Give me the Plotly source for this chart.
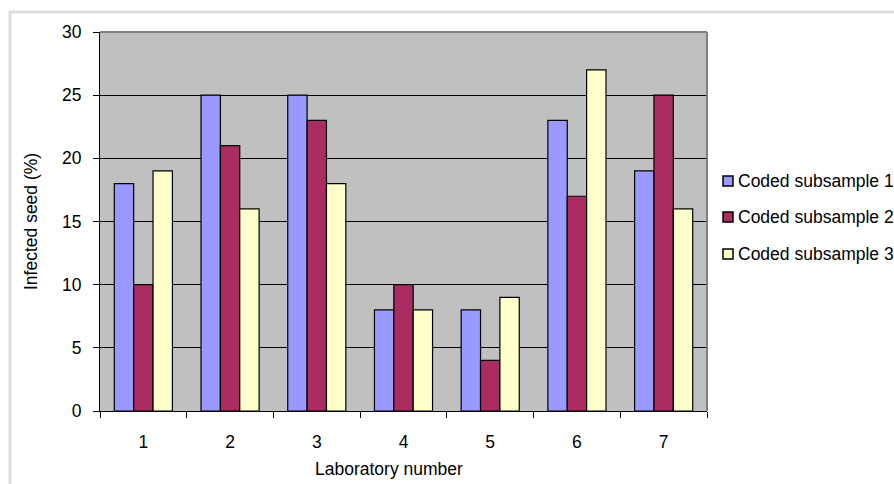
import plotly.graph_objects as go

categories = ["1", "2", "3", "4", "5", "6", "7"]
series_names = ["Coded subsample 1", "Coded subsample 2", "Coded subsample 3"]
sub1 = [18, 25, 25, 8, 8, 23, 19]
sub2 = [10, 21, 23, 10, 4, 17, 25]
sub3 = [19, 16, 18, 8, 9, 27, 16]
colors = ["#9999FF", "#AA2D62", "#FFFFCC"]
y_ticks = [0, 5, 10, 15, 20, 25, 30]

W, H = 894, 484
L, R, T, B = 100, 187, 32, 73
pw, ph = W - L - R, H - T - B

def px_x(p):
    return (p - L) / pw

def px_y(p):
    return (H - B - p) / ph

FONT = "Liberation Sans, Arial, sans-serif"
FS = 17.5

fig = go.Figure()
for name, vals, c in zip(series_names, [sub1, sub2, sub3], colors):
    fig.add_trace(go.Bar(x=categories, y=vals, name=name,
                         marker=dict(color=c, line=dict(color="black", width=1.2)),
                         showlegend=False))

shapes = []
# outer chart border
shapes.append(dict(type="rect", xref="paper", yref="paper",
                   x0=px_x(10), x1=px_x(W + 50), y0=px_y(12), y1=px_y(H + 50),
                   line=dict(color="#DDDDDD", width=3), layer="below"))
# top and right plot-area border
shapes.append(dict(type="line", xref="paper", yref="paper", x0=0, x1=1, y0=1, y1=1,
                   line=dict(color="#808080", width=2)))
shapes.append(dict(type="line", xref="paper", yref="paper", x0=1, x1=1, y0=0, y1=1,
                   line=dict(color="#808080", width=2)))

annotations = []
legend_rows = [181, 217, 254]
for name, c, yy in zip(series_names, colors, legend_rows):
    shapes.append(dict(type="rect", xref="paper", yref="paper",
                       x0=px_x(723), x1=px_x(733), y0=px_y(yy - 5), y1=px_y(yy + 5),
                       fillcolor=c, line=dict(color="black", width=1.5)))
    annotations.append(dict(text=name, xref="paper", yref="paper",
                            x=px_x(736), y=px_y(yy), xanchor="left", yanchor="middle",
                            showarrow=False, font=dict(family=FONT, size=FS, color="black")))

annotations.append(dict(text="Laboratory number", xref="paper", yref="paper",
                        x=px_x(389), y=px_y(469), xanchor="center", yanchor="middle",
                        showarrow=False, font=dict(family=FONT, size=FS, color="black")))
annotations.append(dict(text="Infected seed (%)", xref="paper", yref="paper",
                        x=px_x(31), y=px_y(222), xanchor="center", yanchor="middle",
                        textangle=-90,
                        showarrow=False, font=dict(family=FONT, size=FS, color="black")))

fig.update_layout(
    width=W, height=H,
    margin=dict(l=L, r=R, t=T, b=B, pad=0),
    paper_bgcolor="white",
    plot_bgcolor="#C0C0C0",
    barmode="group",
    bargap=0.33,
    bargroupgap=0,
    font=dict(family=FONT, size=FS, color="black"),
    shapes=shapes,
    annotations=annotations,
    showlegend=False,
)
fig.update_xaxes(type="category", tickson="boundaries", ticks="outside", ticklen=6,
                 tickcolor="black", showline=True, linecolor="black", linewidth=1,
                 showgrid=False, ticklabelstandoff=15,
                 tickfont=dict(family=FONT, size=FS, color="black"))
fig.update_yaxes(range=[0, 30], tickvals=y_ticks, ticks="outside", ticklen=6,
                 tickcolor="black", showline=True, linecolor="black", linewidth=1,
                 showgrid=True, gridcolor="black", gridwidth=1, zeroline=False,
                 ticklabelstandoff=8,
                 tickfont=dict(family=FONT, size=FS, color="black"))

fig.write_html("out.html")
